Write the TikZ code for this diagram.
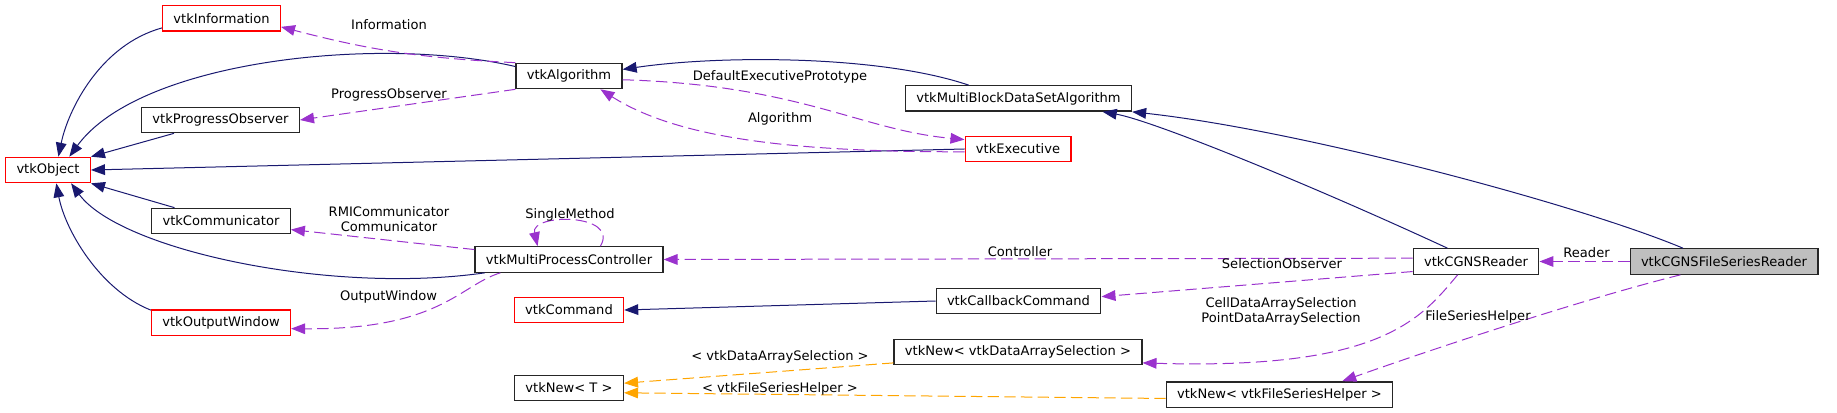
\documentclass[tikz,border=0pt]{standalone}
\usepackage{fontspec}
\setmainfont{DejaVu Sans}
\usetikzlibrary{arrows.meta}
\definecolor{edgenavy}{HTML}{191970}
\definecolor{edgepurple}{HTML}{9A32CD}
\definecolor{edgeorange}{HTML}{FFA500}
\definecolor{boxred}{HTML}{FF0000}
\definecolor{boxgray}{HTML}{BFBFBF}
\newcommand{\dgfont}{\fontsize{9.8}{11.3}\selectfont}
\tikzset{
  classbox/.style={draw=black!85,line width=1pt,minimum height=19pt,inner xsep=8.1pt,inner ysep=0pt,font=\dgfont},
  redbox/.style={classbox,draw=boxred},
  mainbox/.style={classbox,fill=boxgray},
  inherit/.style={edgenavy,line width=0.75pt,-{Triangle[length=10.5pt,width=8pt]}},
  usage/.style={edgepurple,line width=0.75pt,dash pattern=on 8.5pt off 4pt,-{Triangle[length=10.5pt,width=8pt]}},
  tmpl/.style={edgeorange,line width=0.75pt,dash pattern=on 8.5pt off 4pt,-{Triangle[length=10.5pt,width=8pt]}},
  edgelabel/.style={font=\dgfont,inner sep=0pt,align=center}
}

\begin{document}
\begin{tikzpicture}[x=0.75pt,y=-0.75pt]
\useasboundingbox (0,0) rectangle (1837,413);
\node[redbox] (info) at (221.5,18.5) {vtkInformation};
\node[classbox] (algo) at (569,76) {vtkAlgorithm};
\node[classbox] (progobs) at (220.5,120) {vtkProgressObserver};
\node[redbox] (object) at (48,170) {vtkObject};
\node[classbox] (comm) at (221,221) {vtkCommunicator};
\node[classbox] (mpc) at (569,259.5) {vtkMultiProcessController};
\node[redbox] (outwin) at (221,322.5) {vtkOutputWindow};
\node[redbox] (command) at (569,310) {vtkCommand};
\node[classbox] (newT) at (569,388) {vtkNew< T >};
\node[classbox] (mbds) at (1018.5,98.5) {vtkMultiBlockDataSetAlgorithm};
\node[redbox] (exec) at (1018,149) {vtkExecutive};
\node[classbox] (callback) at (1018.5,301) {vtkCallbackCommand};
\node[classbox] (newdas) at (1018,352) {vtkNew< vtkDataArraySelection >};
\node[classbox] (newfsh) at (1279.5,394.5) {vtkNew< vtkFileSeriesHelper >};
\node[classbox] (cgns) at (1476,261.5) {vtkCGNSReader};
\node[mainbox] (cfsr) at (1724,261.5) {vtkCGNSFileSeriesReader};

\draw[inherit] (info.189) .. controls (100,45) and (68,110) .. (object.52);
\draw[inherit] (algo.170) .. controls (380,35) and (140,60) .. (object.32);
\draw[inherit] (progobs.196) -- (object.north east);
\draw[inherit] (exec.west) -- (object.east);
\draw[inherit] (comm.164) -- (object.south east);
\draw[inherit] (mpc.189) .. controls (330,295) and (120,250) .. (object.330);
\draw[inherit] (outwin.170) .. controls (100,290) and (65,230) .. (object.302);
\draw[inherit] (mbds.165) .. controls (880,55) and (720,55) .. (algo.7);
\draw[inherit] (cgns.155) .. controls (1300,180) and (1150,120) .. (mbds.351);
\draw[inherit] (cfsr.162) .. controls (1580,205) and (1300,130) .. (mbds.south east);
\draw[inherit] (callback.west) -- (command.east);

\draw[usage] (algo.north west) to[bend left=6] (info.352);
\draw[usage] (algo.south west) -- (progobs.east);
\draw[usage] (algo.356) .. controls (800,85) and (860,130) .. (exec.170);
\draw[usage] (exec.183) .. controls (800,152) and (680,140) .. (algo.337);
\draw[usage] (mpc.174) -- (comm.353);
\draw[usage] (mpc.23) .. controls (620,213) and (530,213) .. (mpc.157);
\draw[usage] (mpc.191) .. controls (460,285) and (440,330) .. (outwin.355);
\draw[usage] (cgns.177) -- (mpc.east);
\draw[usage] (cgns.189) -- (callback.3);
\draw[usage] (cgns.216) .. controls (1420,320) and (1380,370) .. (newdas.355);
\draw[usage] (cfsr.west) -- (cgns.east);
\draw[usage] (cfsr.197) .. controls (1580,300) and (1430,350) .. (newfsh.12);
\draw[tmpl] (newdas.185) -- (newT.5);
\draw[tmpl] (newfsh.182) -- (newT.355);

\node[edgelabel] (lblinfo) at (389,25) {Information};
\node[edgelabel] (lblprog) at (389,95) {ProgressObserver};
\node[edgelabel] (lbldefexec) at (780,77) {DefaultExecutivePrototype};
\node[edgelabel] (lblalgo) at (780,119) {Algorithm};
\node[edgelabel] (lblcomm) at (389,219.5) {RMICommunicator\\Communicator};
\node[edgelabel] (lblsingle) at (570,215) {SingleMethod};
\node[edgelabel] (lblout) at (388.5,297) {OutputWindow};
\node[edgelabel] (lblctrl) at (1020,252) {Controller};
\node[edgelabel] (lblselobs) at (1282,264) {SelectionObserver};
\node[edgelabel] (lblarrsel) at (1281,311.5) {CellDataArraySelection\\PointDataArraySelection};
\node[edgelabel] (lblreader) at (1586.5,253) {Reader};
\node[edgelabel] (lblfsh) at (1478,317) {FileSeriesHelper};
\node[edgelabel] (lbldas) at (780,357) {< vtkDataArraySelection >};
\node[edgelabel] (lblfsht) at (780,389) {< vtkFileSeriesHelper >};
\end{tikzpicture}
\end{document}
